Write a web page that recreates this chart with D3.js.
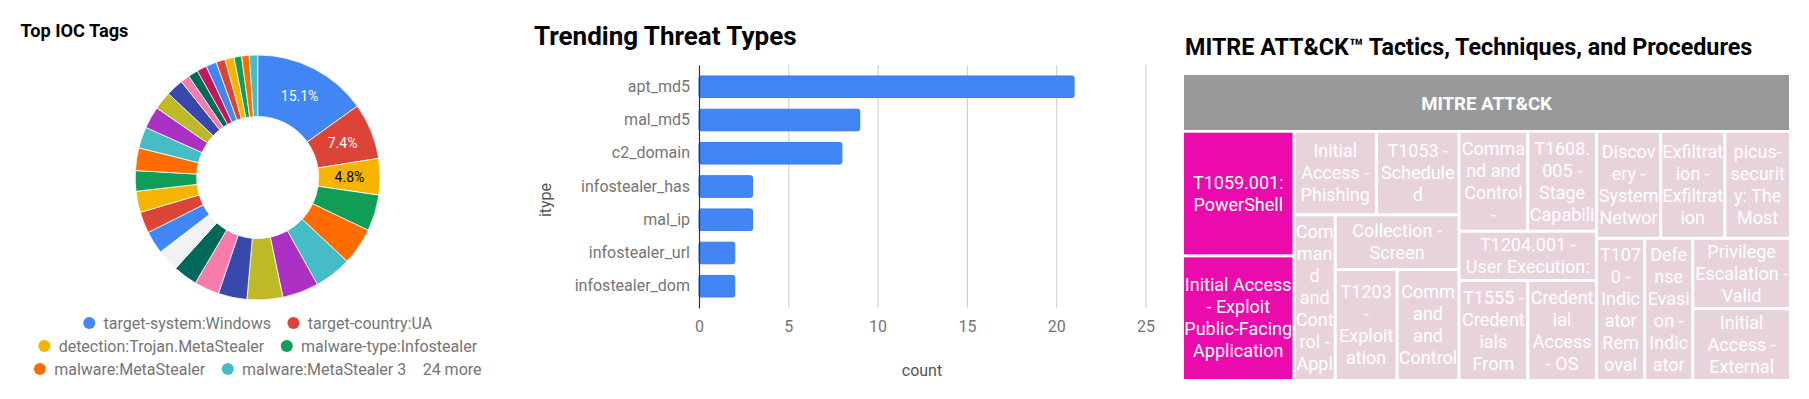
<!DOCTYPE html>
<html>
<head>
<meta charset="utf-8">
<script src="https://cdn.jsdelivr.net/npm/d3@7"></script>
<style>
body { margin: 0; background: #fff; }
svg { display: block; font-family: Roboto, "Noto Sans", sans-serif; }
</style>
</head>
<body>
<svg id="chart" width="1809" height="399"></svg>
<script>
// ---- Top IOC Tags ----
var tagNames = ['target-system:Windows', 'target-country:UA', 'detection:Trojan.MetaStealer',
    'malware-type:Infostealer', 'malware:MetaStealer', 'malware:MetaStealer 3'];
var tagMore = '24 more';
var tagShares = [15.1, 7.4, 4.8, 4.8, 4.9, 4.9, 4.8, 4.7, 3.8, 3.3, 3.2, 2.9, 3.0, 2.8, 2.8,
    2.7, 3.0, 2.8, 2.9, 2.4, 2.3, 1.2, 1.3, 1.3, 1.4, 1.2, 1.2, 1.0, 1.0, 1.1];
var tagPalette = ['#4285f4', '#db4437', '#f4b400', '#0f9d58', '#ff6d00', '#46bdc6',
    '#ab30c4', '#c0b927', '#3949ab', '#f77bab', '#00695c', '#c2185b'];

// ---- Trending Threat Types ----
var itypes = ['apt_md5', 'mal_md5', 'c2_domain', 'infostealer_has', 'mal_ip', 'infostealer_url', 'infostealer_dom'];
var itypeCounts = [21, 9, 8, 3, 3, 2, 2];
var countTicks = [0, 5, 10, 15, 20, 25];

// ---- MITRE ATT&CK treemap ----
var ttpNames = [
    'T1059.001: PowerShell',
    'Initial Access - Exploit Public-Facing Application',
    'Initial Access - Phishing',
    'T1053 - Scheduled Task/Job',
    'Command and Control - Application Layer Protocol',
    'Collection - Screen Capture',
    'T1203 - Exploitation',
    'Command and Control - Ingress Tool Transfer',
    'Command and Control - Encrypted Channel',
    'T1608.005 - Stage Capabilities: Link Target',
    'T1204.001 - User Execution: Malicious Link',
    'T1555 - Credentials From Password Stores',
    'Credential Access - OS Credential Dumping',
    'Discovery - System Network Configuration Discovery',
    'Exfiltration - Exfiltration Over C2 Channel',
    'picus-security: The Most Used Techniques',
    'T1070 - Indicator Removal',
    'Defense Evasion - Indicator Removal',
    'Privilege Escalation - Valid Accounts',
    'Initial Access - External Remote Services'
];
var ttpCounts = [2, 2, 1, 1, 1, 1, 1, 1, 1, 1, 1, 1, 1, 1, 1, 1, 1, 1, 1, 1];
// grouping of the tiles (indices into ttpNames)
var ttpNesting = [[0, 1], [[2, 3], [4, [5, [6, 7]]]], [[8, 9], [10, [11, 12]]], [[13, 14, 15], [16, [17, [18, 19]]]]];

var svg = d3.select('#chart');
svg.append('rect').attr('width', 1809).attr('height', 399).attr('fill', '#fff');

// ================= donut =================
(function() {
    var g = svg.append('g');
    var cx = 257.7, cy = 177.5, rOut = 122.5, rIn = 61;

    g.append('text').attr('x', 20.5).attr('y', 36.5)
        .style('font-size', '18.2px').style('font-weight', 700).attr('fill', '#000')
        .text('Top IOC Tags');

    var pie = d3.pie().sort(null).value(function(d) { return d; });
    var arc = d3.arc().innerRadius(rIn).outerRadius(rOut);
    var labelArc = d3.arc().innerRadius((rIn + rOut) / 2).outerRadius((rIn + rOut) / 2);
    var color = function(i) { return i === 11 ? '#f2f2f2' : tagPalette[i % tagPalette.length]; };

    var slices = g.append('g').attr('transform', 'translate(' + cx + ',' + cy + ')');
    slices.selectAll('path').data(pie(tagShares)).enter().append('path')
        .attr('d', arc)
        .attr('fill', function(d, i) { return color(i); })
        .attr('stroke', '#fff').attr('stroke-width', 0.8);

    slices.selectAll('text').data(pie(tagShares).slice(0, 3)).enter().append('text')
        .attr('transform', function(d) { return 'translate(' + labelArc.centroid(d) + ')'; })
        .attr('text-anchor', 'middle').attr('dy', '0.36em')
        .style('font-size', '14px')
        .attr('fill', function(d, i) { return i === 2 ? '#000' : '#fff'; })
        .text(function(d) { return d.data.toFixed(1) + '%'; });

    // legend, wrapped in centred rows
    var items = tagNames.map(function(n, i) { return {name: n, color: color(i)}; });
    items.push({name: tagMore, color: null});
    var leg = g.append('g').style('font-size', '16px');
    var probe = leg.append('text').attr('x', -999);
    items.forEach(function(d) {
        probe.text(d.name);
        d.w = probe.node().getComputedTextLength() + (d.color ? 20.3 : 0);
    });
    probe.remove();
    var rows = [[]], rowW = [0], maxW = 450, gap = 16.5;
    items.forEach(function(d) {
        var r = rows.length - 1;
        var add = rows[r].length ? gap + d.w : d.w;
        if (rows[r].length && rowW[r] + add > maxW) { rows.push([d]); rowW.push(d.w); }
        else { rows[r].push(d); rowW[r] += add; }
    });
    rows.forEach(function(row, r) {
        var x = cx - rowW[r] / 2, y = 323 + r * 23;
        row.forEach(function(d) {
            if (d.color) {
                leg.append('circle').attr('cx', x + 6).attr('cy', y).attr('r', 6).attr('fill', d.color);
            }
            leg.append('text').attr('x', x + (d.color ? 20.3 : 0)).attr('y', y).attr('dy', '0.35em')
                .attr('fill', '#757575').text(d.name);
            x += d.w + gap;
        });
    });
})();

// ================= bars =================
(function() {
    var g = svg.append('g');
    var top = 65, bottom = 308;

    g.append('text').attr('x', 534).attr('y', 44.5)
        .style('font-size', '26px').style('font-weight', 700).attr('fill', '#000')
        .text('Trending Threat Types');

    var x = d3.scaleLinear().domain([0, 25]).range([699, 1145.5]);
    var y = d3.scaleBand().domain(itypes).range([top, bottom]).paddingInner(0.35).paddingOuter(0.33);

    var xAxis = g.append('g').attr('transform', 'translate(0,' + bottom + ')')
        .call(d3.axisBottom(x).tickValues(countTicks).tickSize(-(bottom - top)).tickPadding(13));
    xAxis.select('.domain').remove();
    xAxis.selectAll('line').attr('stroke', '#cccccc');
    xAxis.selectAll('text').attr('fill', '#757575').style('font-size', '16px').style('font-family', 'Roboto');

    g.selectAll('rect.bar').data(itypeCounts).enter().append('rect')
        .attr('class', 'bar')
        .attr('x', x(0))
        .attr('y', function(d, i) { return y(itypes[i]); })
        .attr('width', function(d) { return x(d) - x(0); })
        .attr('height', y.bandwidth())
        .attr('rx', 2)
        .attr('fill', '#4285f4').attr('stroke', '#3b7be6').attr('stroke-width', 1);

    var yAxis = g.append('g').attr('transform', 'translate(' + x(0) + ',0)')
        .call(d3.axisLeft(y).tickSize(0).tickSizeOuter(0).tickPadding(9));
    yAxis.select('.domain').attr('stroke', '#333').attr('stroke-width', 1.2);
    yAxis.selectAll('text').attr('fill', '#757575').style('font-size', '16px').style('font-family', 'Roboto');

    g.append('text').attr('transform', 'translate(545.5,200) rotate(-90)')
        .attr('text-anchor', 'middle').attr('dy', '0.35em')
        .style('font-size', '16px').attr('fill', '#555').text('itype');
    g.append('text').attr('x', 922).attr('y', 370).attr('dy', '0.35em')
        .attr('text-anchor', 'middle')
        .style('font-size', '16px').attr('fill', '#555').text('count');
})();

// ================= treemap =================
(function() {
    var g = svg.append('g');
    var left = 1184, right = 1789, top = 132.7, bottom = 379, gap = 1.5;
    var W = right - left, H = bottom - top;

    g.append('text').attr('x', 1185).attr('y', 55)
        .style('font-size', '23.3px').style('font-weight', 700).attr('fill', '#000')
        .text('MITRE ATT\u0026CK\u2122 Tactics, Techniques, and Procedures');

    g.append('rect').attr('x', left).attr('y', 75).attr('width', W).attr('height', 55)
        .attr('fill', '#999999');
    g.append('text').attr('x', (left + right) / 2).attr('y', 103).attr('dy', '0.35em')
        .attr('text-anchor', 'middle').style('font-size', '18.6px').style('font-weight', 700)
        .attr('fill', '#fff').text('MITRE ATT\u0026CK');

    function nest(n) {
        return Array.isArray(n) ? {children: n.map(nest)} : {name: ttpNames[n], value: ttpCounts[n]};
    }
    var root = d3.hierarchy({children: ttpNesting.map(nest)})
        .sum(function(d) { return d.value || 0; });

    d3.treemap()
        .size([W, H])
        .tile(function(node, x0, y0, x1, y1) {
            (x1 - x0 > y1 - y0 ? d3.treemapDice : d3.treemapSlice)(node, x0, y0, x1, y1);
        })(root);

    var color = d3.scaleLinear().domain([1, 2]).range(['#e8d3dc', '#eb0aab']);
    var fontSize = 18, lineH = 22;

    var cells = g.append('g').attr('transform', 'translate(' + left + ',' + top + ')');
    var probe = cells.append('text').style('font-size', fontSize + 'px').attr('x', -9999);
    function measure(s) { probe.text(s); return probe.node().getComputedTextLength(); }

    function wrap(text, maxW) {
        var tokens = [];
        text.split(' ').forEach(function(w) {
            var parts = w.match(/[^-]+-?|-/g) || [w];
            parts.forEach(function(p, k) { tokens.push({t: p, sp: k === 0}); });
        });
        var lines = [], cur = '';
        tokens.forEach(function(tok) {
            var cand = cur ? cur + (tok.sp ? ' ' : '') + tok.t : tok.t;
            if (measure(cand) <= maxW) { cur = cand; return; }
            if (cur) lines.push(cur);
            var s = tok.t;
            while (s.length > 1 && measure(s) > maxW) {
                var k = s.length - 1;
                while (k > 1 && measure(s.slice(0, k)) > maxW) k--;
                lines.push(s.slice(0, k));
                s = s.slice(k);
            }
            cur = s;
        });
        if (cur) lines.push(cur);
        return lines;
    }

    // inner edges get a white gap, outer edges stay flush with the box
    function inset(v, lo) { return v > 0.5 && v < (lo ? W : H) - 0.5 ? gap : 0; }

    var defs = svg.append('defs');
    root.leaves().forEach(function(d, i) {
        var x0 = d.x0 + inset(d.x0, true), x1 = d.x1 - inset(d.x1, true);
        var y0 = d.y0 + inset(d.y0, false), y1 = d.y1 - inset(d.y1, false);
        var w = x1 - x0, h = y1 - y0;
        defs.append('clipPath').attr('id', 'ttp-clip-' + i)
            .append('rect').attr('x', x0 + left).attr('y', y0 + top).attr('width', w).attr('height', h);

        cells.append('rect').attr('x', x0).attr('y', y0).attr('width', w).attr('height', h)
            .attr('fill', color(d.value));

        var lines = wrap(d.data.name, w);
        var maxLines = Math.max(1, Math.floor((h - 1) / lineH));
        lines = lines.slice(0, maxLines);
        var t = g.append('text').attr('clip-path', 'url(#ttp-clip-' + i + ')')
            .attr('text-anchor', 'middle').style('font-size', fontSize + 'px').attr('fill', '#fff');
        var cx = left + x0 + w / 2, cy = top + y0 + h / 2;
        var ty = cy - (lines.length * lineH) / 2 + lineH / 2;
        lines.forEach(function(l, k) {
            t.append('tspan').attr('x', cx).attr('y', ty + k * lineH).attr('dy', '0.35em').text(l);
        });
    });
    probe.remove();
})();
</script>
</body>
</html>
